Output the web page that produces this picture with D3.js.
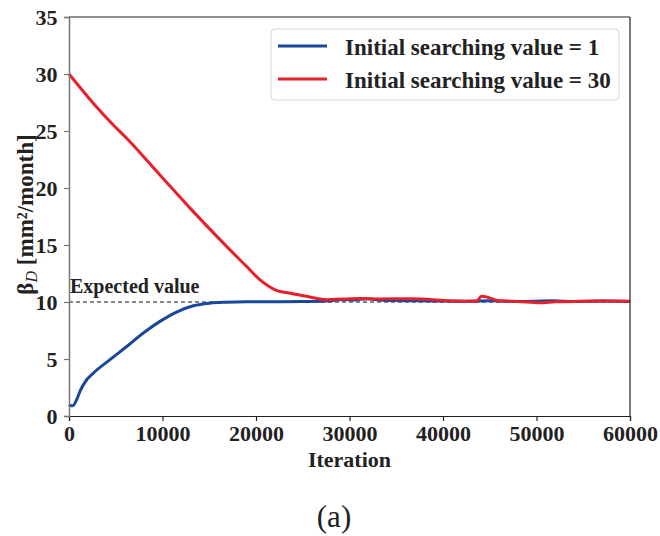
<!DOCTYPE html>
<html>
<head>
<meta charset="utf-8">
<script src="https://cdn.jsdelivr.net/npm/d3@7"></script>
<style>
  html, body { margin: 0; padding: 0; background: #fff; }
  svg { display: block; }
</style>
</head>
<body>
<svg id="chart" width="660" height="536"></svg>
<script>
// Convergence of beta_D for two starting guesses
const iterBlue = [0, 150, 400, 820, 1170, 1890, 2600, 4380, 6170, 7950, 9730, 11500, 13300, 15070, 16860, 19000, 22000, 25000, 27500, 29000, 30500, 31800, 33500, 36000, 39000, 42000, 45000, 48000, 51800, 54000, 57000, 60000];
const valBlue  = [1.0, 0.92, 0.9, 1.43, 2.16, 3.18, 3.76, 4.94, 6.1, 7.28, 8.3, 9.12, 9.67, 9.9, 9.98, 10.02, 10.03, 10.04, 10.08, 10.2, 10.18, 10.28, 10.15, 10.12, 10.08, 10.06, 10.1, 10.05, 10.1, 10.05, 10.08, 10.05];

const iterRed = [0, 2570, 4710, 6140, 9700, 13270, 16850, 18990, 20400, 22180, 23960, 25750, 27530, 29320, 31100, 33250, 36800, 40370, 43580, 44110, 44650, 46070, 48000, 50350, 52000, 54630, 57000, 60000];
const valRed  = [30.0, 27.46, 25.55, 24.39, 21.17, 17.95, 14.88, 13.12, 11.96, 11.02, 10.73, 10.44, 10.2, 10.26, 10.3, 10.27, 10.28, 10.12, 10.06, 10.5, 10.44, 10.1, 10.05, 9.93, 10.02, 10.06, 10.08, 10.06];

const xTicks = [0, 10000, 20000, 30000, 40000, 50000, 60000];
const yTicks = [0, 5, 10, 15, 20, 25, 30, 35];
const expectedValue = 10;
const seriesNames = ["Initial searching value = 1", "Initial searching value = 30"];
const seriesColors = ["#1a479b", "#e8202b"];

const svg = d3.select("#chart");
const m = { left: 69, right: 30, top: 17, bottom: 120 };
const W = 660, H = 536;
const x = d3.scaleLinear().domain([0, 60000]).range([m.left, W - m.right]);
const y = d3.scaleLinear().domain([0, 35]).range([H - m.bottom, m.top]);

// expected value reference line
svg.append("line")
  .attr("x1", x(0)).attr("x2", x(60000))
  .attr("y1", y(expectedValue)).attr("y2", y(expectedValue))
  .attr("stroke", "#111").attr("stroke-width", 1.2)
  .attr("stroke-dasharray", "4,3");

svg.append("text")
  .attr("x", x(0) + 1).attr("y", y(expectedValue) - 9.5)
  .style("font-size", "20px").style("font-weight", "bold")
  .text("Expected value");

const line = d3.line().x(d => x(d[0])).y(d => y(d[1])).curve(d3.curveMonotoneX);
const blue = iterBlue.map((it, i) => [it, valBlue[i]]);
const red = iterRed.map((it, i) => [it, valRed[i]]);

svg.append("path").datum(blue)
  .attr("d", line).attr("fill", "none")
  .attr("stroke", seriesColors[0]).attr("stroke-width", 3);
svg.append("path").datum(red)
  .attr("d", line).attr("fill", "none")
  .attr("stroke", seriesColors[1]).attr("stroke-width", 3);

// frame
svg.append("line").attr("x1", x(0)).attr("x2", x(60000)).attr("y1", y(35)).attr("y2", y(35))
  .attr("stroke", "#222").attr("stroke-width", 1.2);
svg.append("line").attr("x1", x(60000)).attr("x2", x(60000)).attr("y1", y(35)).attr("y2", y(0))
  .attr("stroke", "#222").attr("stroke-width", 1.2);

// axes
const xAxis = svg.append("g")
  .attr("transform", `translate(0,${y(0)})`)
  .call(d3.axisBottom(x).tickValues(xTicks).tickSize(5).tickPadding(6).tickFormat(d3.format("d")));
xAxis.select(".domain").attr("stroke", "#222").attr("stroke-width", 1.2);
xAxis.selectAll(".tick line").attr("stroke", "#222").attr("stroke-width", 1.2);
xAxis.selectAll(".tick text")
  .style("font-size", "22px").style("font-weight", "bold")
  .attr("y", 25).attr("dy", null);

const yAxis = svg.append("g")
  .attr("transform", `translate(${x(0)},0)`)
  .call(d3.axisLeft(y).tickValues(yTicks).tickSize(5).tickPadding(6));
yAxis.select(".domain").attr("stroke", "#777").attr("stroke-width", 1.5);
yAxis.selectAll(".tick line").attr("stroke", "#777").attr("stroke-width", 1.2);
yAxis.selectAll(".tick text")
  .style("font-size", "22px").style("font-weight", "bold")
  .attr("x", -11.5).attr("dy", 7.5);

// axis titles
svg.append("text")
  .attr("x", (x(0) + x(60000)) / 2).attr("y", 467)
  .attr("text-anchor", "middle")
  .style("font-size", "22px").style("font-weight", "bold")
  .text("Iteration");

const yl = svg.append("text")
  .attr("transform", `translate(33,${(y(0) + y(35)) / 2 - 2}) rotate(-90)`)
  .attr("text-anchor", "middle")
  .style("font-size", "23px").style("font-weight", "bold");
yl.append("tspan").text("β");
yl.append("tspan").style("font-style", "italic").style("font-weight", "normal")
  .style("font-size", "16px").attr("dy", 4).text("D");
yl.append("tspan").attr("dy", -4).text(" [mm²/month]");

// legend
const lg = svg.append("g");
lg.append("rect")
  .attr("x", 271).attr("y", 29).attr("width", 348).attr("height", 71)
  .attr("rx", 4).attr("fill", "#fff").attr("fill-opacity", 0.85)
  .attr("stroke", "#d6d6d6").attr("stroke-width", 1);
seriesNames.forEach((name, i) => {
  const cy = 46 + i * 33;
  lg.append("line").attr("x1", 278).attr("x2", 327).attr("y1", cy).attr("y2", cy)
    .attr("stroke", seriesColors[i]).attr("stroke-width", 3);
  lg.append("text")
    .attr("x", 345).attr("y", cy + 8.5)
    .style("font-size", "23px").style("font-weight", "bold")
    .text(name);
});

// panel label
svg.append("text")
  .attr("x", 334).attr("y", 527)
  .attr("text-anchor", "middle")
  .style("font-size", "31px")
  .text("(a)");

// serif face for every label
svg.selectAll("text")
  .style("font-family", "'Liberation Serif', 'Times New Roman', serif")
  .style("fill", "#222");
</script>
</body>
</html>
